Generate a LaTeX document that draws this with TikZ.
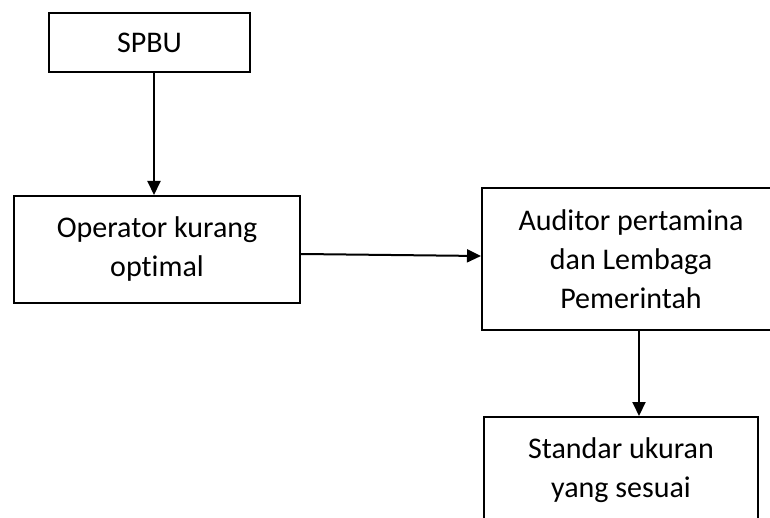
\documentclass[tikz,border=0pt]{standalone}
\usepackage{fontspec}
\setmainfont{Carlito}[Ligatures=NoCommon]
\usetikzlibrary{arrows.meta}
\begin{document}
\begin{tikzpicture}[x=1pt,y=-1pt,
    kotak/.style={draw,line width=2pt,align=center,inner sep=0pt,
      font=\fontsize{30}{39}\selectfont},
    panah/.style={line width=2pt,-{Triangle[length=14pt,width=13pt]}}]
  \clip (0,0) rectangle (770,518);
  % kotak-kotak
  \node[kotak,minimum width=201pt,minimum height=59pt] (spbu) at (149.5,42.5) {SPBU};
  \node[kotak,minimum width=286pt,minimum height=107pt] (operator) at (157,249.5) {Operator kurang\\optimal};
  \node[kotak,minimum width=298pt,minimum height=142pt] (auditor) at (631,259) {Auditor pertamina\\dan Lembaga\\Pemerintah};
  \node[kotak,minimum width=274pt,minimum height=107pt] (standar) at (621,470.5) {Standar ukuran\\yang sesuai};
  % panah
  \draw[panah] ([xshift=4.5pt]spbu.south) -- ([xshift=-3pt]operator.north);
  \draw[panah] ([yshift=-4.5pt]operator.east) -- ([yshift=3pt]auditor.west);
  \draw[panah] ([xshift=8pt]auditor.south) -- ([xshift=18pt]standar.north);
\end{tikzpicture}
\end{document}
